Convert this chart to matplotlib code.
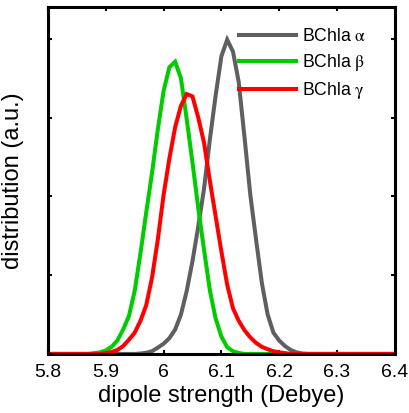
import matplotlib
matplotlib.use("Agg")
import matplotlib.pyplot as plt
import numpy as np

plt.rcParams["font.family"] = ["Liberation Sans", "DejaVu Sans"]
plt.rcParams["mathtext.fontset"] = "stix"

# dipole strength grid (Debye), 0.01 steps from 5.8 to 6.4
dipole = np.round(np.arange(5.80, 6.4001, 0.01), 2)

# distributions (a.u.) for the three BChla sites
bchla_alpha = [0] * 16 + [
    0.005, 0.015, 0.035, 0.08, 0.13, 0.20, 0.31, 0.50, 0.80, 1.18,
    1.62, 2.10, 2.72, 3.28, 3.78, 3.99, 3.84, 3.45, 2.75, 2.02,
    1.45, 0.90, 0.50, 0.27, 0.17, 0.10, 0.05, 0.02, 0.005,
] + [0] * 16
bchla_beta = [0] * 8 + [
    0.01, 0.02, 0.045, 0.09, 0.17, 0.31, 0.48, 0.80, 1.28, 1.80,
    2.30, 2.85, 3.34, 3.64, 3.71, 3.50, 2.98, 2.43, 1.85, 1.32,
    0.81, 0.45, 0.22, 0.085, 0.035, 0.012,
] + [0] * 27
bchla_gamma = [0] * 10 + [
    0.01, 0.025, 0.05, 0.10, 0.18, 0.27, 0.42, 0.62, 0.97, 1.45,
    2.02, 2.48, 2.88, 3.15, 3.30, 3.27, 3.00, 2.68, 2.20, 1.75,
    1.30, 0.88, 0.58, 0.42, 0.30, 0.21, 0.14, 0.09, 0.06, 0.035,
    0.02, 0.01,
] + [0] * 19

labels = [r"BChla $\mathrm{\alpha}$", r"BChla $\mathrm{\beta}$", r"BChla $\mathrm{\gamma}$"]
colors = ["#5f5f5f", "#00cc00", "#ff0000"]
xticks = [5.8, 5.9, 6.0, 6.1, 6.2, 6.3, 6.4]
xticklabels = ["5.8", "5.9", "6", "6.1", "6.2", "6.3", "6.4"]

fig = plt.figure(figsize=(4.10, 4.13), dpi=100)
ax = fig.add_axes([0.117, 0.143, 0.846, 0.840])

for ys, lab, c in zip([bchla_alpha, bchla_beta, bchla_gamma], labels, colors):
    ax.plot(dipole, ys, color=c, lw=2.9, label=lab, solid_joinstyle="miter")

ax.set_xlim(5.8, 6.4)
ax.set_ylim(0, 4.405)
ax.set_xticks(xticks)
ax.set_xticklabels(xticklabels)
ax.set_yticks([0, 1, 2, 3, 4])
ax.set_yticklabels([])
ax.tick_params(direction="in", length=3, width=1.5, top=True, right=True,
               labelsize=14, pad=7)
for sp in ax.spines.values():
    sp.set_linewidth(2.2)

ax.set_xlabel("dipole strength (Debye)", fontsize=17, labelpad=3)
ax.set_ylabel("distribution (a.u.)", fontsize=17, labelpad=10)

ax.legend(loc="upper left", bbox_to_anchor=(0.551, 0.94), frameon=False,
          fontsize=12.7, handlelength=3.2, handletextpad=0.35,
          labelspacing=0.4, borderpad=0, borderaxespad=0)

fig.savefig("out.png", dpi=100)
